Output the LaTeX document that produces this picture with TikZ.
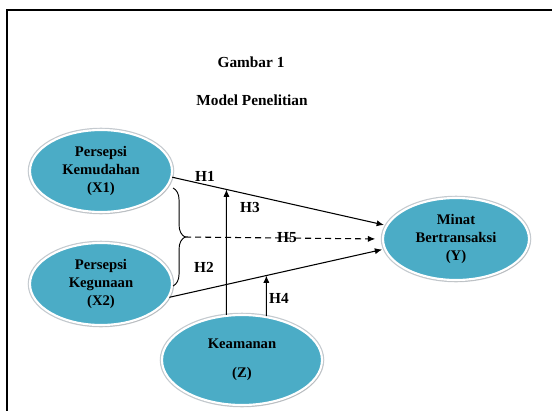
\documentclass[tikz,border=0pt]{standalone}
\usepackage{fontspec}
\setmainfont{Liberation Serif}
\usepackage{tikz}
\usetikzlibrary{arrows.meta,calc,decorations.pathreplacing,intersections,positioning,shadows,shapes.geometric}
\definecolor{modelteal}{HTML}{4BACC6}
\definecolor{rimgray}{HTML}{C4CACF}
\definecolor{inkblack}{HTML}{000000}
\tikzset{
  latent/.style={ellipse,draw=white,line width=1.6pt,fill=#1,
    preaction={draw=rimgray,line width=3.4pt},
    drop shadow={shadow xshift=0.8pt,shadow yshift=-1.2pt,fill=gray!70,opacity=0.45},
    inner sep=0pt,align=center,font=\fontsize{11}{13.6}\selectfont\bfseries},
  latent/.default=modelteal,
  caption/.style={font=\fontsize{11.5}{14}\selectfont\bfseries},
  hlabel/.style={font=\fontsize{11.5}{14}\selectfont\bfseries,inner sep=1pt},
  arrow/.style={-{Latex[length=5.5pt,width=4.6pt]},line width=0.8pt,draw=inkblack},
  dasharrow/.style={arrow,dash pattern=on 4.5pt off 3pt},
  bracket/.style={decorate,decoration={brace,amplitude=9pt},line width=0.7pt},
  frame/.style={line width=1.6pt,draw=inkblack}
}

\begin{document}
\begin{tikzpicture}[x=0.75pt,y=-0.75pt]
\useasboundingbox (0,0) rectangle (552,410);
\draw[frame] (7,411) -- (7,10) -- (553,10);

\node[caption] (gambar) at (251,62) {Gambar 1};
\node[caption] (judul) at (252,100) {Model Penelitian};

\node[latent,minimum width=106.5pt,minimum height=61.5pt] (x1) at (101,171) {Persepsi\\Kemudahan\\(X1)};
\node[latent,minimum width=106.5pt,minimum height=61.5pt] (x2) at (101,284) {Persepsi\\Kegunaan\\(X2)};
\node[latent,minimum width=109.5pt,minimum height=61.5pt] (y) at (456,239) {Minat\\Bertransaksi\\(Y)};
\node[latent,minimum width=120pt,minimum height=67.5pt] (z) at (242,360) {Keamanan\\[8pt](Z)};

% direct paths
\draw[arrow,name path=h1path,shorten >=1.5pt] (x1.-5) -- (y.169);
\draw[arrow,name path=h2path,shorten >=1.5pt] (x2.-11) -- (y.188);

% moderation by Z
\path[name path=h3up] (z.109) -- ++(0,-250);
\path[name path=h4up] (z.61) -- ++(0,-250);
\draw[arrow,name intersections={of=h1path and h3up,by=h3end}] (z.109) -- (h3end);
\draw[arrow,name intersections={of=h2path and h4up,by=h4end}] (z.61) -- (h4end);

% joint effect
\coordinate (bracetop) at ($(x1.east)+(0,17)$);
\coordinate (bracebot) at ($(x2.east)+(0,2)$);
\coordinate (bracetip) at ($(bracetop)!0.5!(bracebot)+(12,0)$);
\draw[bracket] (bracetop) -- (bracebot);
\draw[dasharrow,shorten >=5pt] (bracetip) -- (y.west);

\node[hlabel] (h1) at (205,176) {H1};
\node[hlabel] (h2) at (204,267) {H2};
\node[hlabel] (h3) at (250,207) {H3};
\node[hlabel] (h4) at (279,298) {H4};
\node[hlabel] (h5) at (287,238) {H5};
\end{tikzpicture}
\end{document}
